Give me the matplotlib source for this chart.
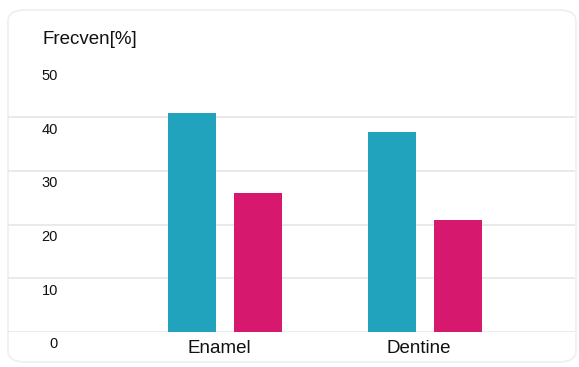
import numpy as np
import matplotlib
matplotlib.use("Agg")
import matplotlib.pyplot as plt
import matplotlib.transforms as mtransforms
from matplotlib.patches import FancyBboxPatch

# data
categories = ["Enamel", "Dentine"]
series_a = [40.8, 37.3]   # teal bars
series_b = [25.9, 20.9]   # pink bars
yticks = [0, 10, 20, 30, 40, 50]
ylabel = "Frecven[%]"

teal = "#22a3bd"
pink = "#d6196f"

plt.rcParams["font.family"] = ["Liberation Sans", "DejaVu Sans"]

W, H = 579, 367
fig = plt.figure(figsize=(W / 100, H / 100), dpi=100)

# faint rounded card behind the chart
card = FancyBboxPatch((8 / W, 5 / H), 568 / W, 352 / H,
                      boxstyle="round,pad=0,rounding_size=0.03",
                      transform=fig.transFigure, facecolor="white",
                      edgecolor="#efefef", linewidth=1.2, zorder=-1)
fig.patches.append(card)

# axes: baseline at y=332 px, value 50 at ~63 px; x from 8 to 575 px
left, right = 8, 575
bottom_px, top_px = 332, 63.5
ax = fig.add_axes([left / W, (H - bottom_px) / H, (right - left) / W,
                   (bottom_px - top_px) / H])
ax.set_facecolor("none")

x = np.arange(len(categories))
width = 0.24
off = 0.164
ax.bar(x - off, series_a, width, color=teal, zorder=3)
ax.bar(x + off, series_b, width, color=pink, zorder=3)

ax.set_xlim(-(225 - left) / 200, 1 + (right - 425) / 200)
ax.set_ylim(0, 50)

for v in yticks[:-1]:
    ax.axhline(v, color="#e6e6e6", linewidth=1.2, zorder=1)

for s in ax.spines.values():
    s.set_visible(False)

ax.set_yticks(yticks)
ax.set_yticklabels([str(v) for v in yticks], fontsize=10.5, color="#111111")
ax.tick_params(axis="y", length=0, pad=-36)
shift_y = mtransforms.ScaledTranslation(0, -11 / 100, fig.dpi_scale_trans)
for lab in ax.get_yticklabels():
    lab.set_horizontalalignment("right")
    lab.set_transform(lab.get_transform() + shift_y)

ax.set_xticks(x)
ax.set_xticklabels(categories, fontsize=13.5, color="#111111")
ax.tick_params(axis="x", length=0, pad=6)
shift_x = mtransforms.ScaledTranslation(-6 / 100, 0, fig.dpi_scale_trans)
for lab in ax.get_xticklabels():
    lab.set_transform(lab.get_transform() + shift_x)

fig.text(42 / W, 1 - 31 / H, ylabel, fontsize=13.5, color="#111111",
         ha="left", va="top")

fig.savefig("out.png", dpi=100, facecolor="white")
